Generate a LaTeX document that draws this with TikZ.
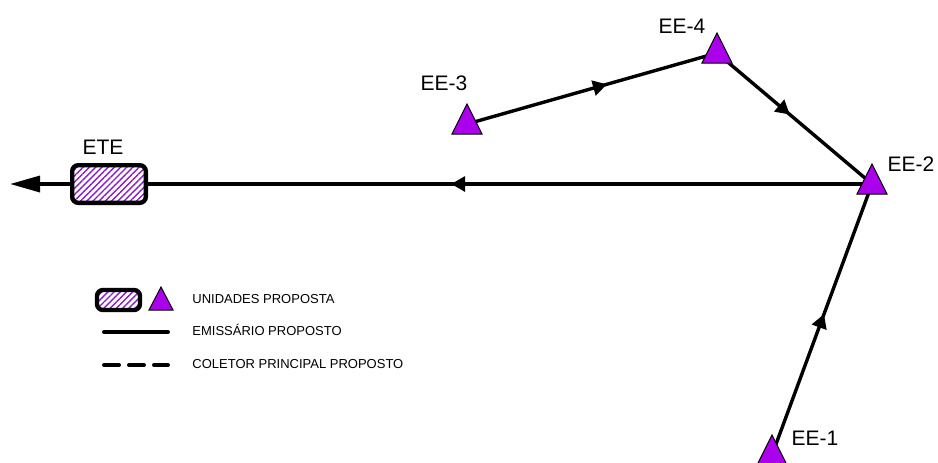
\documentclass[tikz,border=0pt]{standalone}
\usepackage{fontspec}
\setmainfont{Liberation Sans}
\usetikzlibrary{arrows.meta,decorations.markings,patterns.meta,calc}
\definecolor{trifill}{RGB}{170,0,235}
\definecolor{hatch}{RGB}{135,30,200}
\tikzset{
  pipe/.style={line width=1.7pt, draw=black},
  midarrow/.style={postaction={decorate}, decoration={markings, mark=at position #1 with {\arrow{Triangle[length=7pt,width=7.5pt]}}}},
  tri/.style={draw=black, line width=0.5pt, fill=trifill},
  unit/.style={draw=black, line width=2.2pt, rounded corners=3pt, inner sep=0pt,
    pattern={Lines[angle=45,distance=2.2pt,line width=0.7pt]}, pattern color=hatch},
  lbl/.style={font=\fontsize{10.5}{12}\selectfont, inner sep=0pt, text height=7.5pt, text depth=0pt},
  legtext/.style={font=\fontsize{6.5}{8}\selectfont, anchor=west, inner sep=0pt, text height=4.7pt, text depth=0pt},
}
\begin{document}
\begin{tikzpicture}[x=0.5pt,y=-0.5pt]
  \fill[white] (0,0) rectangle (938,462);
  \useasboundingbox (0,0) rectangle (938,462);
  % stations
  \coordinate (ee3) at (467,124);
  \coordinate (ee4) at (717,53);
  \coordinate (ee2) at (872,184);
  \coordinate (ee1) at (772,455);
  \coordinate (west) at (10,184);
  % ETE
  \node[unit, minimum width=36.8pt, minimum height=18.8pt] (ete) at (109,184) {};
  \node[lbl] (lete) at (103,147) {ETE};
  % connectors
  \draw[pipe, midarrow=0.56] (ee3) -- (ee4);
  \draw[pipe, midarrow=0.47] (ee4) -- (ee2);
  \draw[pipe, midarrow=0.52] (ee1) -- (ee2);
  \draw[pipe, midarrow=0.58] (ee2) -- (ete.east);
  \draw[pipe, -{Triangle[length=15pt,width=8pt]}] (ete.west) -- (west);
  % triangles
  \draw[tri] ($(ee3)+(0,-20)$) -- ++(15,30) -- ++(-30,0) -- cycle;
  \draw[tri] ($(ee4)+(0,-20)$) -- ++(15,30) -- ++(-30,0) -- cycle;
  \draw[tri] ($(ee2)+(0,-20)$) -- ++(15,30) -- ++(-30,0) -- cycle;
  \draw[tri] ($(ee1)+(0,-20)$) -- ++(15,30) -- ++(-30,0) -- cycle;
  % labels
  \node[lbl] (l3) at (444,82.5) {EE-3};
  \node[lbl] (l4) at (682,26) {EE-4};
  \node[lbl] (l2) at (911,163.5) {EE-2};
  \node[lbl] (l1) at (815,438) {EE-1};
  % legend
  \node[unit, minimum width=21.5pt, minimum height=10pt] (legbox) at (118.5,300) {};
  \draw[tri] (161,287) -- ++(12,23) -- ++(-24,0) -- cycle;
  \node[legtext] (t1) at (192,299) {UNIDADES PROPOSTA};
  \draw[line width=2pt, line cap=round] (104,332) -- (168,332);
  \node[legtext] (t2) at (192,331) {EMISSÁRIO PROPOSTO};
  \draw[line width=2pt, line cap=round, dash pattern=on 7.5pt off 5pt] (104,365) -- (168,365);
  \node[legtext] (t3) at (192,364) {COLETOR PRINCIPAL PROPOSTO};
\end{tikzpicture}
\end{document}
